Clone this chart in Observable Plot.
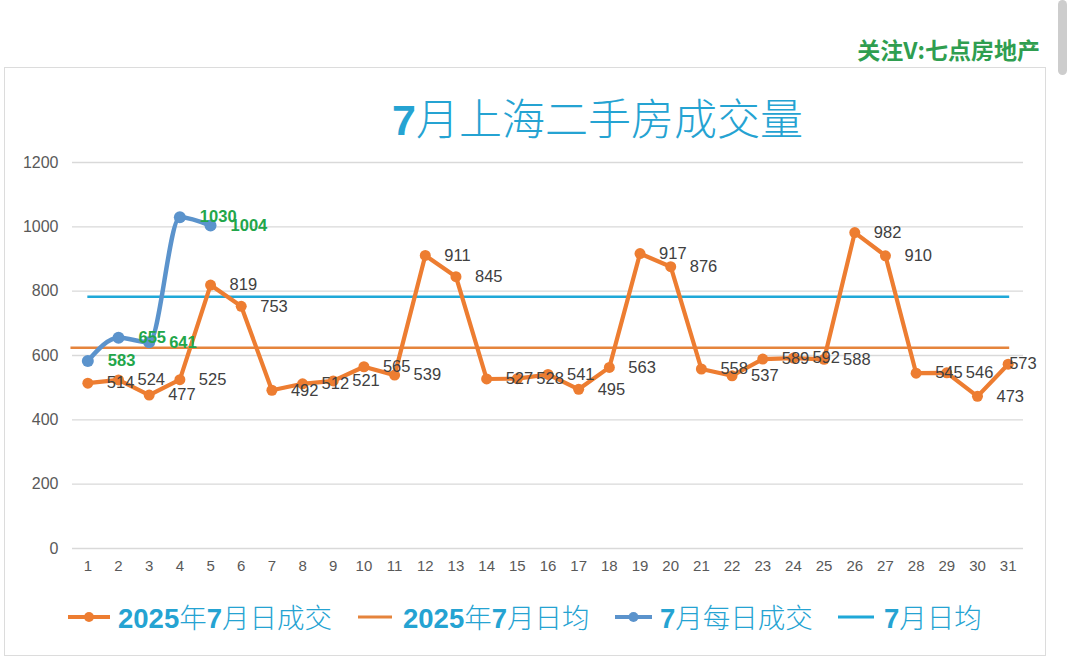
<!DOCTYPE html>
<html>
<head>
<meta charset="utf-8">
<script src="https://cdn.jsdelivr.net/npm/d3@7"></script>
<script src="https://cdn.jsdelivr.net/npm/@observablehq/plot@0.6"></script>
<style>
  html, body { margin: 0; padding: 0; background: #fff; }
  #root { position: relative; width: 1080px; height: 668px; overflow: hidden; font-family: "Noto Sans CJK SC", "Noto Sans", sans-serif; }
  .abs { position: absolute; }
  #box { left: 4px; top: 67px; width: 1042px; height: 589px; border: 1.5px solid #dcdcdc; box-sizing: border-box; }
  #scroll { left: 1058px; top: 0px; width: 9px; height: 75px; background: #cdcdcd; border-radius: 5px; }
  #wm { right: 40px; top: 38px; font-size: 23px; font-weight: 700; color: #2f9e50; line-height: 1; white-space: nowrap; }
  #title { left: 0; width: 1195px; text-align: center; top: 95px; font-size: 43px; color: #25a3d2; line-height: 1; white-space: nowrap; font-weight: 300; }
  #title b, .lg b { font-family: "Liberation Sans", Arial, sans-serif; font-weight: 700; }
  #chart { left: 0; top: 140px; }
  .lg { top: 603px; font-size: 27.5px; color: #25a3d2; line-height: 1; white-space: nowrap; font-weight: 300; }
  .lgsym { top: 607px; }
</style>
</head>
<body>
<div id="root">
  <div id="box" class="abs"></div>
  <div id="scroll" class="abs"></div>
  <div id="wm" class="abs">关注V:七点房地产</div>
  <div id="title" class="abs"><b>7</b>月上海二手房成交量</div>
  <div id="chart" class="abs"></div>
  <div id="legend"></div>
</div>
<script>
// ---- data ----
const days = [1,2,3,4,5,6,7,8,9,10,11,12,13,14,15,16,17,18,19,20,21,22,23,24,25,26,27,28,29,30,31];
const sales2025 = [514,524,477,525,819,753,492,512,521,565,539,911,845,527,528,541,495,563,917,876,558,537,589,592,588,982,910,545,546,473,573];
const julyDays = [1,2,3,4,5];
const julySales = [583,655,641,1030,1004];
const yTicks = [0,200,400,600,800,1000,1200];
const seriesNames = ["2025年7月日成交", "2025年7月日均", "7月每日成交", "7月日均"];

// ---- colours ----
const cOrange = "#ed7d31";
const cOrangeAvg = "#e5843c";
const cBlue = "#5b93cc";
const cCyan = "#1fa8d8";

const orange = days.map((d, i) => ({day: d, v: sales2025[i]}));
const blue = julyDays.map((d, i) => ({day: d, v: julySales[i]}));
const avg2025 = d3.mean(sales2025);
const avgJuly = d3.mean(julySales);
const firstDay = days[0], lastDay = days[days.length - 1];

const chart = Plot.plot({
  width: 1080,
  height: 448,
  marginTop: 22,
  marginBottom: 40,
  marginLeft: 72,
  marginRight: 57,
  style: {background: "transparent", fontFamily: "'Liberation Sans', Arial, sans-serif"},
  x: {domain: [firstDay - 0.5, lastDay + 0.5]},
  y: {domain: [yTicks[0], yTicks[yTicks.length - 1]]},
  marks: [
    Plot.ruleY(yTicks, {stroke: "#d9d9d9", strokeWidth: 1.3}),
    Plot.axisY({ticks: yTicks, tickSize: 0, tickPadding: 14, fontSize: 16, fill: "#595959", label: null, tickFormat: d => String(d)}),
    Plot.axisX({ticks: days, tickSize: 0, tickPadding: 12, fontSize: 15, fill: "#595959", label: null, tickFormat: d => String(d)}),
    Plot.ruleY([avg2025], {x1: firstDay - 0.55, x2: lastDay + 0.05, stroke: cOrangeAvg, strokeWidth: 2.5}),
    Plot.ruleY([avgJuly], {x1: firstDay, x2: lastDay + 0.05, stroke: cCyan, strokeWidth: 2.5}),
    Plot.line(orange, {x: "day", y: "v", stroke: cOrange, strokeWidth: 4.2, strokeLinejoin: "round"}),
    Plot.dot(orange, {x: "day", y: "v", r: 5.5, fill: cOrange}),
    Plot.line(blue, {x: "day", y: "v", stroke: cBlue, strokeWidth: 4.5, curve: "monotone-x"}),
    Plot.dot(blue, {x: "day", y: "v", r: 6, fill: cBlue}),
    Plot.text(orange.filter(d => d.day !== lastDay), {x: "day", y: "v", text: d => String(d.v), dx: 19, textAnchor: "start", fontSize: 16.5, fill: "#404040"}),
    Plot.text(orange.filter(d => d.day === lastDay), {x: "day", y: "v", text: d => String(d.v), dx: 1, textAnchor: "start", fontSize: 16.5, fill: "#404040"}),
    Plot.text(blue, {x: "day", y: "v", text: d => String(d.v), dx: 20, textAnchor: "start", fontSize: 16.5, fill: "#22a64a", fontWeight: "bold"})
  ]
});
document.getElementById("chart").appendChild(chart);

// ---- legend ----
const legendItems = [
  {name: seriesNames[0], color: cOrange, x1: 68, x2: 110, text: 118, dot: true, w: 4},
  {name: seriesNames[1], color: cOrangeAvg, x1: 358, x2: 392, text: 403, dot: false, w: 3},
  {name: seriesNames[2], color: cBlue, x1: 615, x2: 652, text: 660, dot: true, w: 4},
  {name: seriesNames[3], color: cCyan, x1: 838, x2: 874, text: 884, dot: false, w: 3}
];
const legend = document.getElementById("legend");
const fmt = s => s.replace(/(\d+)/g, "<b>$1</b>");
legendItems.forEach(it => {
  const w = it.x2 - it.x1;
  const sym = document.createElement("div");
  sym.className = "abs lgsym";
  sym.style.left = it.x1 + "px";
  sym.innerHTML = `<svg width="${w}" height="20"><line x1="0" x2="${w}" y1="10" y2="10" stroke="${it.color}" stroke-width="${it.w}"/>${it.dot ? `<circle cx="${w/2}" cy="10" r="5" fill="${it.color}"/>` : ""}</svg>`;
  legend.appendChild(sym);
  const t = document.createElement("div");
  t.className = "abs lg";
  t.style.left = it.text + "px";
  t.innerHTML = fmt(it.name);
  legend.appendChild(t);
});
</script>
</body>
</html>
